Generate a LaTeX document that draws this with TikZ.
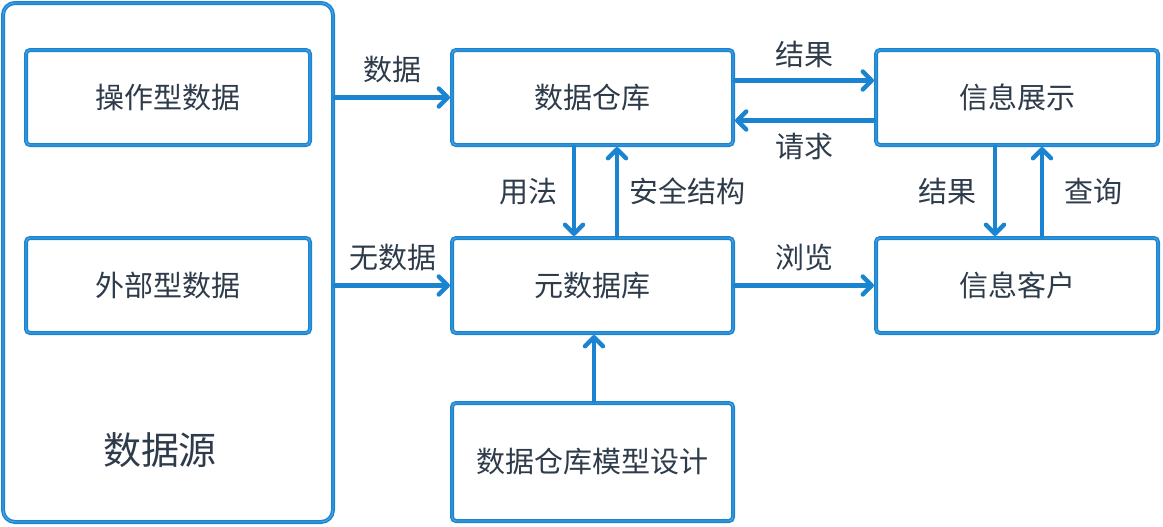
\documentclass[tikz,border=0pt]{standalone}
\usepackage{fontspec}
\setmainfont{Noto Sans CJK SC}
\usetikzlibrary{arrows.meta}
\definecolor{skblue}{HTML}{1A84D0}
\definecolor{sklight}{HTML}{55A8E6}
\definecolor{sktext}{HTML}{2E3B4A}
\begin{document}
\begin{tikzpicture}[x=0.5pt,y=-0.5pt,
  box/.style={draw=skblue, line width=2pt, rounded corners=2pt, inner sep=0pt,
    text=sktext, font=\fontsize{14.5pt}{16pt}\selectfont,
    postaction={draw=sklight, line width=0.45pt}},
  conn/.style={draw=skblue, line width=2.4pt, line cap=round,
    -{Straight Barb[length=4.5pt,width=9pt,line width=2.2pt, round]}},
  lbl/.style={text=sktext, font=\fontsize{14.5pt}{16pt}\selectfont, inner sep=0pt}]
\useasboundingbox (0,0) rectangle (1163,526);
% source
\node[box, rounded corners=6pt, minimum width=165pt, minimum height=259.5pt] (src) at (168,262.5) {};
\node[lbl, font=\fontsize{19pt}{21pt}\selectfont] (srclbl) at (160,450) {数据源};
\node[box, minimum width=142pt, minimum height=47.5pt] (op) at (168,97.5) {操作型数据};
\node[box, minimum width=142pt, minimum height=47.5pt] (ext) at (168,285.5) {外部型数据};
% center
\node[box, minimum width=140.5pt, minimum height=47.5pt] (dw) at (592.5,97.5) {数据仓库};
\node[box, minimum width=140.5pt, minimum height=47.5pt] (meta) at (592.5,285.5) {元数据库};
\node[box, minimum width=140.5pt, minimum height=59pt] (model) at (592.5,462) {数据仓库模型设计};
% right
\node[box, minimum width=141pt, minimum height=47.5pt] (show) at (1017,97.5) {信息展示};
\node[box, minimum width=141pt, minimum height=47.5pt] (cli) at (1017,285.5) {信息客户};
% connectors
\draw[conn] (src.east |- dw) -- (dw.west) node[lbl, midway, above=6pt] (l1) {数据};
\draw[conn] (src.east |- meta) -- (meta.west) node[lbl, midway, above=6pt] (l2) {无数据};
\draw[conn] ([yshift=8.5pt]dw.east) -- ([yshift=8.5pt]show.west) node[lbl, midway, above=5pt] (l3) {结果};
\draw[conn] ([yshift=-11.5pt]show.west) -- ([yshift=-11.5pt]dw.east) node[lbl, midway, below=5pt] (l4) {请求};
\draw[conn] ([xshift=-9.25pt]dw.south) -- ([xshift=-9.25pt]meta.north) node[lbl, midway, left=7pt] (l5) {用法};
\draw[conn] ([xshift=12.25pt]meta.north) -- ([xshift=12.25pt]dw.south) node[lbl, midway, right=5pt] (l6) {安全结构};
\draw[conn] (meta.east) -- (cli.west) node[lbl, midway, above=6pt] (l7) {浏览};
\draw[conn] ([xshift=-11pt]show.south) -- ([xshift=-11pt]cli.north) node[lbl, midway, left=8pt] (l8) {结果};
\draw[conn] ([xshift=12.5pt]cli.north) -- ([xshift=12.5pt]show.south) node[lbl, midway, right=10pt] (l9) {查询};
\draw[conn] ([xshift=0.75pt]model.north) -- ([xshift=0.75pt]meta.south);
\end{tikzpicture}
\end{document}
